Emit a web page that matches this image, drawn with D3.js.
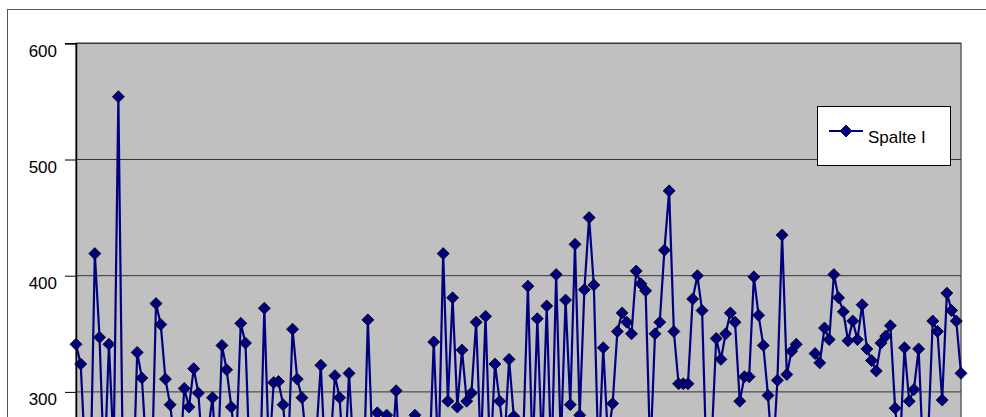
<!DOCTYPE html>
<html>
<head>
<meta charset="utf-8">
<script src="https://cdn.jsdelivr.net/npm/d3@7"></script>
<style>
  body { margin: 0; background: #fff; overflow: hidden; }
  text { font-family: Arial, "Liberation Sans", sans-serif; }
</style>
</head>
<body>
<div id="chart"></div>
<script>
// values of "Spalte I" (points below ~280 are out of view in the reference, estimated)
const values = [
  341, 324, 240, 210, 419, 347, 230, 341, 250, 554,
  220, 260, 200, 334, 312, 245, 215, 376, 358, 311,
  289, 255, 235, 303, 287, 320, 299, 240, 265, 295,
  225, 340, 319, 287, 250, 359, 342, 230, 270, 215,
  372, 245, 308, 309, 289, 240, 354, 311, 295, 255,
  220, 260, 323, 235, 250, 314, 295, 230, 316, 245,
  265, 210, 362, 250, 282, 270, 280, 240, 301, 225,
  260, 245, 280, 215, 250, 235, 343, 240, 419, 292,
  381, 287, 336, 292, 299, 360, 250, 365, 240, 324,
  292, 255, 328, 279, 230, 260, 391, 245, 363, 250,
  374, 235, 401, 255, 379, 289, 427, 280, 388, 450,
  392, 240, 338, 260, 290, 352, 368, 360, 350, 404,
  393, 387, 245, 350, 360, 422, 473, 352, 307, 307,
  307, 380, 400, 370, 230, 255, 346, 328, 350, 368,
  360, 292, 313, 313, 399, 366, 340, 297, 240, 310,
  435, 315, 335, 341, null, null, null, 333, 325, 355,
  345, 401, 381, 369, 344, 361, 345, 375, 337, 327,
  318, 342, 348, 357, 286, 250, 338, 292, 302, 337,
  240, 260, 361, 352, 293, 385, 370, 361, 316
];
const categories = values.map((d, i) => i + 1);
const yTicks = [0, 100, 200, 300, 400, 500, 600];
const seriesName = "Spalte I";

const width = 986;
const height = 417;
const plot = { left: 76, right: 961, top: 43.3, bottom: 740.5 };

const svg = d3.select("#chart")
  .append("svg")
  .attr("width", width)
  .attr("height", height);

// outer chart frame
svg.append("rect")
  .attr("x", 7.5).attr("y", 9.5)
  .attr("width", 990).attr("height", 800)
  .attr("fill", "#fff")
  .attr("stroke", "#555");

const x = d3.scalePoint().domain(categories).range([plot.left, plot.right]);
const y = d3.scaleLinear().domain([0, 600]).range([plot.bottom, plot.top]);

svg.append("rect")
  .attr("x", plot.left).attr("y", plot.top)
  .attr("width", plot.right - plot.left)
  .attr("height", plot.bottom - plot.top)
  .attr("fill", "#c0c0c0")
  .attr("stroke", "#606060")
  .attr("stroke-width", 1.5);

// gridlines
svg.append("g")
  .selectAll("line")
  .data(yTicks)
  .join("line")
  .attr("x1", plot.left).attr("x2", plot.right)
  .attr("y1", (d) => y(d)).attr("y2", (d) => y(d))
  .attr("stroke", "#333")
  .attr("stroke-width", 1);

// y axis
const yAxis = svg.append("g")
  .attr("transform", `translate(${plot.left},0)`)
  .call(d3.axisLeft(y).tickValues(yTicks).tickSize(11).tickPadding(8));
yAxis.select(".domain").attr("stroke", "#000").attr("stroke-width", 1.5);
yAxis.selectAll(".tick line").attr("stroke", "#000");
yAxis.selectAll(".tick text")
  .attr("font-size", 17)
  .attr("font-family", "Arial, 'Liberation Sans', sans-serif")
  .attr("fill", "#000")
  .attr("dy", "0.75em");
// the lower part of the chart lies outside the window
yAxis.selectAll(".tick").filter((d) => y(d) > height).remove();

// series line
const line = d3.line()
  .defined((d) => d != null)
  .x((d, i) => x(categories[i]))
  .y((d) => y(d));

svg.append("path")
  .datum(values)
  .attr("fill", "none")
  .attr("stroke", "#000080")
  .attr("stroke-width", 2.2)
  .attr("stroke-linejoin", "round")
  .attr("d", line);

const diamond = (cx, cy, r) =>
  `M${cx},${cy - r}L${cx + r},${cy}L${cx},${cy + r}L${cx - r},${cy}Z`;

svg.append("g")
  .selectAll("path")
  .data(values.map((v, i) => ({ v, c: categories[i] })).filter((d) => d.v != null))
  .join("path")
  .attr("d", (d) => diamond(x(d.c), y(d.v), 6))
  .attr("fill", "#000080")
  .attr("stroke", "#000")
  .attr("stroke-width", 0.8);

// legend
const legend = svg.append("g");
legend.append("rect")
  .attr("x", 817.5).attr("y", 106.5)
  .attr("width", 133).attr("height", 59)
  .attr("fill", "#fff")
  .attr("stroke", "#000");
legend.append("line")
  .attr("x1", 829).attr("x2", 863)
  .attr("y1", 131).attr("y2", 131)
  .attr("stroke", "#000080")
  .attr("stroke-width", 2.2);
legend.append("path")
  .attr("d", diamond(846, 131, 6))
  .attr("fill", "#000080")
  .attr("stroke", "#000")
  .attr("stroke-width", 0.8);
legend.append("text")
  .attr("x", 868).attr("y", 143)
  .attr("font-size", 17)
  .attr("fill", "#000")
  .text(seriesName);
</script>
</body>
</html>
